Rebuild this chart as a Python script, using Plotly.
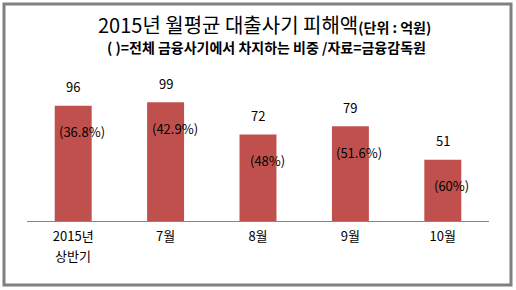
import plotly.graph_objects as go

categories = ["2015년\n상반기", "7월", "8월", "9월", "10월"]
values = [96, 99, 72, 79, 51]
shares = ["(36.8%)", "(42.9%)", "(48%)", "(51.6%)", "(60%)"]

FONT = "Noto Sans CJK KR"
W, H = 516, 290
L, R, T, B = 27, 27, 77, 69
pw, ph = W - L - R, H - T - B

def px_x(x):
    return (x - L) / pw

def px_y(y):
    return (H - B - y) / ph

first_lines = [c.split("\n")[0] for c in categories]

fig = go.Figure()
fig.add_trace(go.Bar(
    x=list(range(len(categories))), y=values,
    marker=dict(color="#C0504D", line=dict(width=0)),
    width=0.4, hoverinfo="skip",
))

ann = []
for i, (v, s) in enumerate(zip(values, shares)):
    ann.append(dict(x=i, y=v, xref="x", yref="y", text=str(v), showarrow=False,
                    yanchor="middle", yshift=19, font=dict(size=13, color="#000", family=FONT)))
    ann.append(dict(x=i, y=v, xref="x", yref="y", text=s, showarrow=False,
                    yanchor="middle", yshift=-26, xshift=9,
                    font=dict(size=13, color="#000", family=FONT)))

# second lines of multi-line category labels
for i, c in enumerate(categories):
    parts = c.split("\n")
    if len(parts) > 1:
        ann.append(dict(x=i, y=px_y(255), xref="x", yref="paper", text=parts[1], showarrow=False,
                        yanchor="middle", font=dict(size=13, color="#000", family=FONT)))

ann.append(dict(x=px_x(264), y=px_y(25), xref="paper", yref="paper", showarrow=False,
                xanchor="center", yanchor="middle",
                text="2015년 월평균 대출사기 피해액<span style='font-size:14px;font-weight:bold'>(단위 : 억원)</span>",
                font=dict(size=20, color="#000", family=FONT)))
ann.append(dict(x=px_x(266), y=px_y(47), xref="paper", yref="paper", showarrow=False,
                xanchor="center", yanchor="middle",
                text="<b>( )=전체 금융사기에서 차지하는 비중 /자료=금융감독원</b>",
                font=dict(size=14, color="#000", family=FONT)))

fig.update_layout(
    width=W, height=H,
    margin=dict(l=L, r=R, t=T, b=B),
    paper_bgcolor="white", plot_bgcolor="white",
    showlegend=False,
    annotations=ann,
    xaxis=dict(tickvals=list(range(len(categories))), ticktext=first_lines,
               range=[-0.5, len(categories) - 0.5],
               showline=True, linecolor="#868686", linewidth=1,
               showgrid=False, zeroline=False, ticks="", ticklabelstandoff=3,
               tickfont=dict(size=13, color="#000", family=FONT)),
    yaxis=dict(range=[0, 120], visible=False, showgrid=False, zeroline=False),
    shapes=[dict(type="rect", xref="paper", yref="paper",
                 x0=px_x(4), x1=px_x(511), y0=px_y(285), y1=px_y(4),
                 line=dict(color="#808080", width=3), fillcolor="rgba(0,0,0,0)", layer="above")],
)

fig.write_html("out.html")
